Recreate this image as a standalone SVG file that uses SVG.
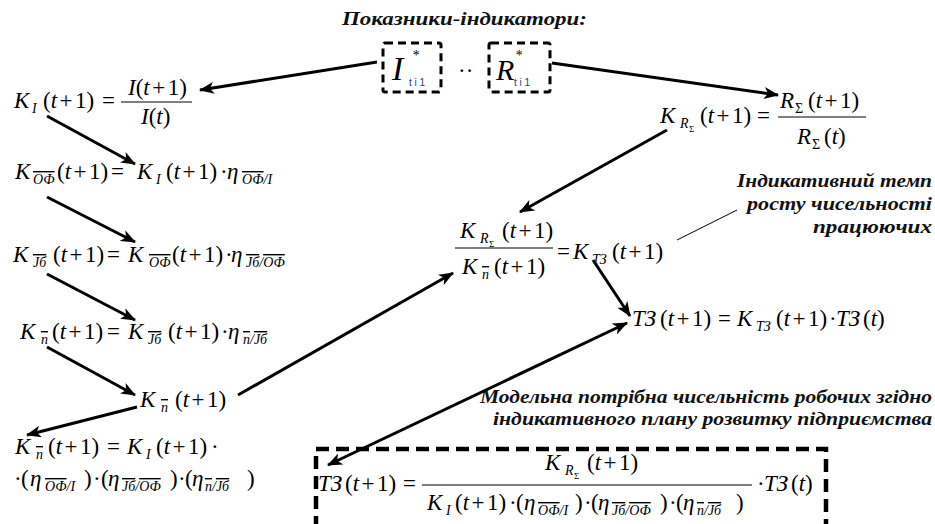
<svg xmlns="http://www.w3.org/2000/svg" width="935" height="524" viewBox="0 0 935 524" font-family="Liberation Serif, Times New Roman, serif">
<style>
.m{font-size:23px;fill:#000}
.i{font-style:italic}
.s{font-size:14px;font-style:italic}
.ss{font-size:9px;font-style:normal}
.ov{text-decoration:overline}
.note{font-style:italic;font-weight:bold;font-size:18px;fill:#111}
.fl{stroke:#000;stroke-width:1.2}
.con{stroke:#000;fill:none;stroke-width:3}
.thin{stroke:#000;fill:none;stroke-width:1}
.dbox{fill:none;stroke:#000;stroke-width:3;stroke-dasharray:8 5}
.bbox{fill:none;stroke:#000;stroke-width:4.5;stroke-dasharray:13 7}
.ind{font-style:italic;fill:#000}
.idx{font-size:10px;fill:#1f3a7a}
</style>
<defs>
<marker id="ah" markerUnits="userSpaceOnUse" markerWidth="16" markerHeight="12" refX="14" refY="6" orient="auto-start-reverse">
<path d="M0,0 L15,6 L0,12 L4,6 z" fill="#000"/>
</marker>
</defs>

<g id="title"><text class="note" x="342" y="25" textLength="245" lengthAdjust="spacingAndGlyphs">Показники-індикатори:</text></g>

<g id="ind-I">
<rect class="dbox" x="383" y="43" width="58" height="49" rx="2"/>
<text class="ind" x="392" y="80" font-size="34">I</text>
<text class="ind" x="412" y="60" font-size="14">*</text>
<text class="idx" x="409" y="86" font-family="Liberation Sans, sans-serif">t i 1</text>
</g>
<g id="dots"><text class="m" x="458" y="78" font-size="16">··</text></g>
<g id="ind-R">
<rect class="dbox" x="489" y="43" width="61" height="49" rx="2"/>
<text class="ind" x="496" y="80" font-size="30">R</text>
<text class="ind" x="515" y="60" font-size="14">*</text>
<text class="idx" x="514" y="86" font-family="Liberation Sans, sans-serif">t i 1</text>
</g>

<g id="eq-KI">
<text class="m"><tspan x="14" y="108" class="i">K</tspan><tspan x="32" y="113" class="s">I</tspan><tspan x="43" y="108">(<tspan class="i">t</tspan><tspan dx="2.5">+</tspan><tspan dx="2.5">1</tspan>)</tspan><tspan x="102" y="108">=</tspan>
<tspan x="128" y="95"><tspan class="i">I</tspan>(<tspan class="i">t</tspan><tspan dx="2.5">+</tspan><tspan dx="2.5">1</tspan>)</tspan>
<tspan x="141" y="124"><tspan class="i">I</tspan>(<tspan class="i">t</tspan>)</tspan></text>
<line class="fl" x1="121" y1="102" x2="192" y2="102"/>
</g>

<g id="eq-KOF">
<text class="m"><tspan x="15" y="179" class="i">K</tspan><tspan x="33" y="184" class="s"><tspan class="ov">ОФ</tspan></tspan><tspan x="57" y="179">(<tspan class="i">t</tspan><tspan dx="2.5">+</tspan><tspan dx="2.5">1</tspan>)</tspan><tspan x="111" y="179">=</tspan><tspan x="137" y="179" class="i">K</tspan><tspan x="156" y="184" class="s">I</tspan><tspan x="166" y="179">(<tspan class="i">t</tspan><tspan dx="2.5">+</tspan><tspan dx="2.5">1</tspan>)</tspan><tspan x="220" y="179">·</tspan><tspan x="227" y="179" class="i">η</tspan><tspan x="242" y="184" class="s"><tspan class="ov">ОФ</tspan>/I</tspan></text>
</g>

<g id="eq-KJb">
<text class="m"><tspan x="13" y="262" class="i">K</tspan><tspan x="33" y="267" class="s"><tspan class="ov">Jб</tspan></tspan><tspan x="53" y="262">(<tspan class="i">t</tspan><tspan dx="2.5">+</tspan><tspan dx="2.5">1</tspan>)</tspan><tspan x="107" y="262">=</tspan><tspan x="128" y="262" class="i">K</tspan><tspan x="149" y="267" class="s"><tspan class="ov">ОФ</tspan></tspan><tspan x="172" y="262">(<tspan class="i">t</tspan><tspan dx="2.5">+</tspan><tspan dx="2.5">1</tspan>)</tspan><tspan x="225" y="262">·</tspan><tspan x="231" y="262" class="i">η</tspan><tspan x="246" y="267" class="s"><tspan class="ov">Jб</tspan>/<tspan class="ov">ОФ</tspan></tspan></text>
</g>

<g id="eq-Kp">
<text class="m"><tspan x="20" y="339" class="i">K</tspan><tspan x="41" y="344" class="s"><tspan class="ov">п</tspan></tspan><tspan x="52" y="339">(<tspan class="i">t</tspan><tspan dx="2.5">+</tspan><tspan dx="2.5">1</tspan>)</tspan><tspan x="107" y="339">=</tspan><tspan x="128" y="339" class="i">K</tspan><tspan x="148" y="344" class="s"><tspan class="ov">Jб</tspan></tspan><tspan x="168" y="339">(<tspan class="i">t</tspan><tspan dx="2.5">+</tspan><tspan dx="2.5">1</tspan>)</tspan><tspan x="221" y="339">·</tspan><tspan x="228" y="339" class="i">η</tspan><tspan x="243" y="344" class="s"><tspan class="ov">п</tspan>/<tspan class="ov">Jб</tspan></tspan></text>
</g>

<g id="eq-Kp2">
<text class="m"><tspan x="140" y="407" class="i">K</tspan><tspan x="161" y="412" class="s"><tspan class="ov">п</tspan></tspan><tspan x="175" y="407">(<tspan class="i">t</tspan><tspan dx="2.5">+</tspan><tspan dx="2.5">1</tspan>)</tspan></text>
</g>

<g id="eq-Kp3">
<text class="m"><tspan x="15" y="454" class="i">K</tspan><tspan x="36" y="459" class="s"><tspan class="ov">п</tspan></tspan><tspan x="48" y="454">(<tspan class="i">t</tspan><tspan dx="2.5">+</tspan><tspan dx="2.5">1</tspan>)</tspan><tspan x="107" y="454">=</tspan><tspan x="127" y="454" class="i">K</tspan><tspan x="146" y="459" class="s">I</tspan><tspan x="156" y="454">(<tspan class="i">t</tspan><tspan dx="2.5">+</tspan><tspan dx="2.5">1</tspan>)</tspan><tspan x="211" y="454">·</tspan>
<tspan x="14" y="486">·</tspan><tspan x="21" y="486">(</tspan><tspan x="30" y="486" class="i">η</tspan><tspan x="45" y="491" class="s"><tspan class="ov">ОФ</tspan>/I</tspan><tspan x="84" y="486">)</tspan><tspan x="93" y="486">·</tspan><tspan x="101" y="486">(</tspan><tspan x="108" y="486" class="i">η</tspan><tspan x="122" y="491" class="s"><tspan class="ov">Jб</tspan>/<tspan class="ov">ОФ</tspan></tspan><tspan x="170" y="486">)</tspan><tspan x="178" y="486">·</tspan><tspan x="185" y="486">(</tspan><tspan x="192" y="486" class="i">η</tspan><tspan x="205" y="491" class="s"><tspan class="ov">п</tspan>/<tspan class="ov">Jб</tspan></tspan><tspan x="247" y="486">)</tspan></text>
</g>

<g id="eq-KR">
<text class="m"><tspan x="660" y="123" class="i">K</tspan><tspan x="680" y="128" class="s" font-size="12">R</tspan><tspan x="689" y="132" class="ss">Σ</tspan><tspan x="700" y="123">(<tspan class="i">t</tspan><tspan dx="2.5">+</tspan><tspan dx="2.5">1</tspan>)</tspan><tspan x="757" y="123">=</tspan>
<tspan x="780" y="108" class="i">R</tspan><tspan x="795" y="113" font-size="14">Σ</tspan><tspan x="808" y="108">(<tspan class="i">t</tspan><tspan dx="2.5">+</tspan><tspan dx="2.5">1</tspan>)</tspan>
<tspan x="797" y="144" class="i">R</tspan><tspan x="812" y="149" font-size="14">Σ</tspan><tspan x="824" y="144">(<tspan class="i">t</tspan>)</tspan></text>
<line class="fl" x1="778" y1="117" x2="866" y2="117"/>
</g>

<g id="eq-KTZ">
<text class="m"><tspan x="460" y="238" class="i">K</tspan><tspan x="480" y="243" class="s" font-size="12">R</tspan><tspan x="489" y="247" class="ss">Σ</tspan><tspan x="502" y="238">(<tspan class="i">t</tspan><tspan dx="2.5">+</tspan><tspan dx="2.5">1</tspan>)</tspan>
<tspan x="462" y="274" class="i">K</tspan><tspan x="482" y="279" class="s"><tspan class="ov">п</tspan></tspan><tspan x="494" y="274">(<tspan class="i">t</tspan><tspan dx="2.5">+</tspan><tspan dx="2.5">1</tspan>)</tspan>
<tspan x="557" y="259">=</tspan><tspan x="573" y="259" class="i">K</tspan><tspan x="592" y="264" class="s">ТЗ</tspan><tspan x="612" y="259">(<tspan class="i">t</tspan><tspan dx="2.5">+</tspan><tspan dx="2.5">1</tspan>)</tspan></text>
<line class="fl" x1="455" y1="248" x2="553" y2="248"/>
</g>

<g id="note-tempo">
<text class="note" x="737" y="187" textLength="195" lengthAdjust="spacingAndGlyphs">Індикативний темп</text>
<text class="note" x="747" y="210" textLength="185" lengthAdjust="spacingAndGlyphs">росту чисельності</text>
<text class="note" x="813" y="233" textLength="119" lengthAdjust="spacingAndGlyphs">працюючих</text>
</g>

<g id="eq-TZ">
<text class="m"><tspan x="632" y="326" class="i">ТЗ</tspan><tspan x="660" y="326">(<tspan class="i">t</tspan><tspan dx="2.5">+</tspan><tspan dx="2.5">1</tspan>)</tspan><tspan x="718" y="326">=</tspan><tspan x="737" y="326" class="i">K</tspan><tspan x="756" y="331" class="s">ТЗ</tspan><tspan x="776" y="326">(<tspan class="i">t</tspan><tspan dx="2.5">+</tspan><tspan dx="2.5">1</tspan>)</tspan><tspan x="829" y="326">·</tspan><tspan x="836" y="326" class="i">ТЗ</tspan><tspan x="863" y="326">(<tspan class="i">t</tspan>)</tspan></text>
</g>

<g id="note-model">
<text class="note" x="480" y="403" textLength="452" lengthAdjust="spacingAndGlyphs">Модельна потрібна чисельність робочих згідно</text>
<text class="note" x="493" y="425" textLength="439" lengthAdjust="spacingAndGlyphs">індикативного плану розвитку підприємства</text>
</g>

<g id="eq-final">
<rect class="bbox" x="316" y="449" width="510" height="100"/>
<text class="m"><tspan x="318" y="491" class="i">ТЗ</tspan><tspan x="345" y="491">(<tspan class="i">t</tspan><tspan dx="2.5">+</tspan><tspan dx="2.5">1</tspan>)</tspan><tspan x="403" y="491">=</tspan>
<tspan x="545" y="470" class="i">K</tspan><tspan x="565" y="475" class="s" font-size="12">R</tspan><tspan x="574" y="479" class="ss">Σ</tspan><tspan x="587" y="470">(<tspan class="i">t</tspan><tspan dx="2.5">+</tspan><tspan dx="2.5">1</tspan>)</tspan>
<tspan x="427" y="510" class="i">K</tspan><tspan x="446" y="515" class="s">I</tspan><tspan x="455" y="510">(<tspan class="i">t</tspan><tspan dx="2.5">+</tspan><tspan dx="2.5">1</tspan>)</tspan><tspan x="509" y="510">·</tspan><tspan x="516" y="510">(</tspan><tspan x="524" y="510" class="i">η</tspan><tspan x="538" y="515" class="s"><tspan class="ov">ОФ</tspan>/I</tspan><tspan x="575" y="510">)</tspan><tspan x="584" y="510">·</tspan><tspan x="591" y="510">(</tspan><tspan x="598" y="510" class="i">η</tspan><tspan x="612" y="515" class="s"><tspan class="ov">Jб</tspan>/<tspan class="ov">ОФ</tspan></tspan><tspan x="660" y="510">)</tspan><tspan x="669" y="510">·</tspan><tspan x="676" y="510">(</tspan><tspan x="683" y="510" class="i">η</tspan><tspan x="697" y="515" class="s"><tspan class="ov">п</tspan>/<tspan class="ov">Jб</tspan></tspan><tspan x="736" y="510">)</tspan>
<tspan x="757" y="491">·</tspan><tspan x="764" y="491" class="i">ТЗ</tspan><tspan x="791" y="491">(<tspan class="i">t</tspan>)</tspan></text>
<line class="fl" x1="422" y1="485" x2="752" y2="485"/>
</g>

<g id="connectors">
<line class="con" x1="377" y1="62" x2="200" y2="90" stroke-width="2.5" marker-end="url(#ah)"/>
<line class="con" x1="552" y1="63" x2="778" y2="95" stroke-width="2.5" marker-end="url(#ah)"/>
<line class="con" x1="47" y1="116" x2="135" y2="164" marker-end="url(#ah)"/>
<line class="con" x1="47" y1="197" x2="135" y2="242" marker-end="url(#ah)"/>
<line class="con" x1="47" y1="274" x2="135" y2="320" marker-end="url(#ah)"/>
<line class="con" x1="47" y1="347" x2="135" y2="395" marker-end="url(#ah)"/>
<line class="con" x1="137" y1="407" x2="27" y2="435" stroke-width="2" marker-end="url(#ah)"/>
<line class="con" x1="238" y1="395" x2="453" y2="273" stroke-width="2.5" marker-end="url(#ah)"/>
<line class="con" x1="667" y1="130" x2="520" y2="212" stroke-width="2.5" marker-end="url(#ah)"/>
<line class="con" x1="593" y1="260" x2="630" y2="316" stroke-width="2.5" marker-end="url(#ah)"/>
<line class="con" x1="627" y1="323" x2="328" y2="465" stroke-width="2" marker-start="url(#ah)" marker-end="url(#ah)"/>
<line class="thin" x1="677" y1="240" x2="737" y2="210"/>
</g>
</svg>
